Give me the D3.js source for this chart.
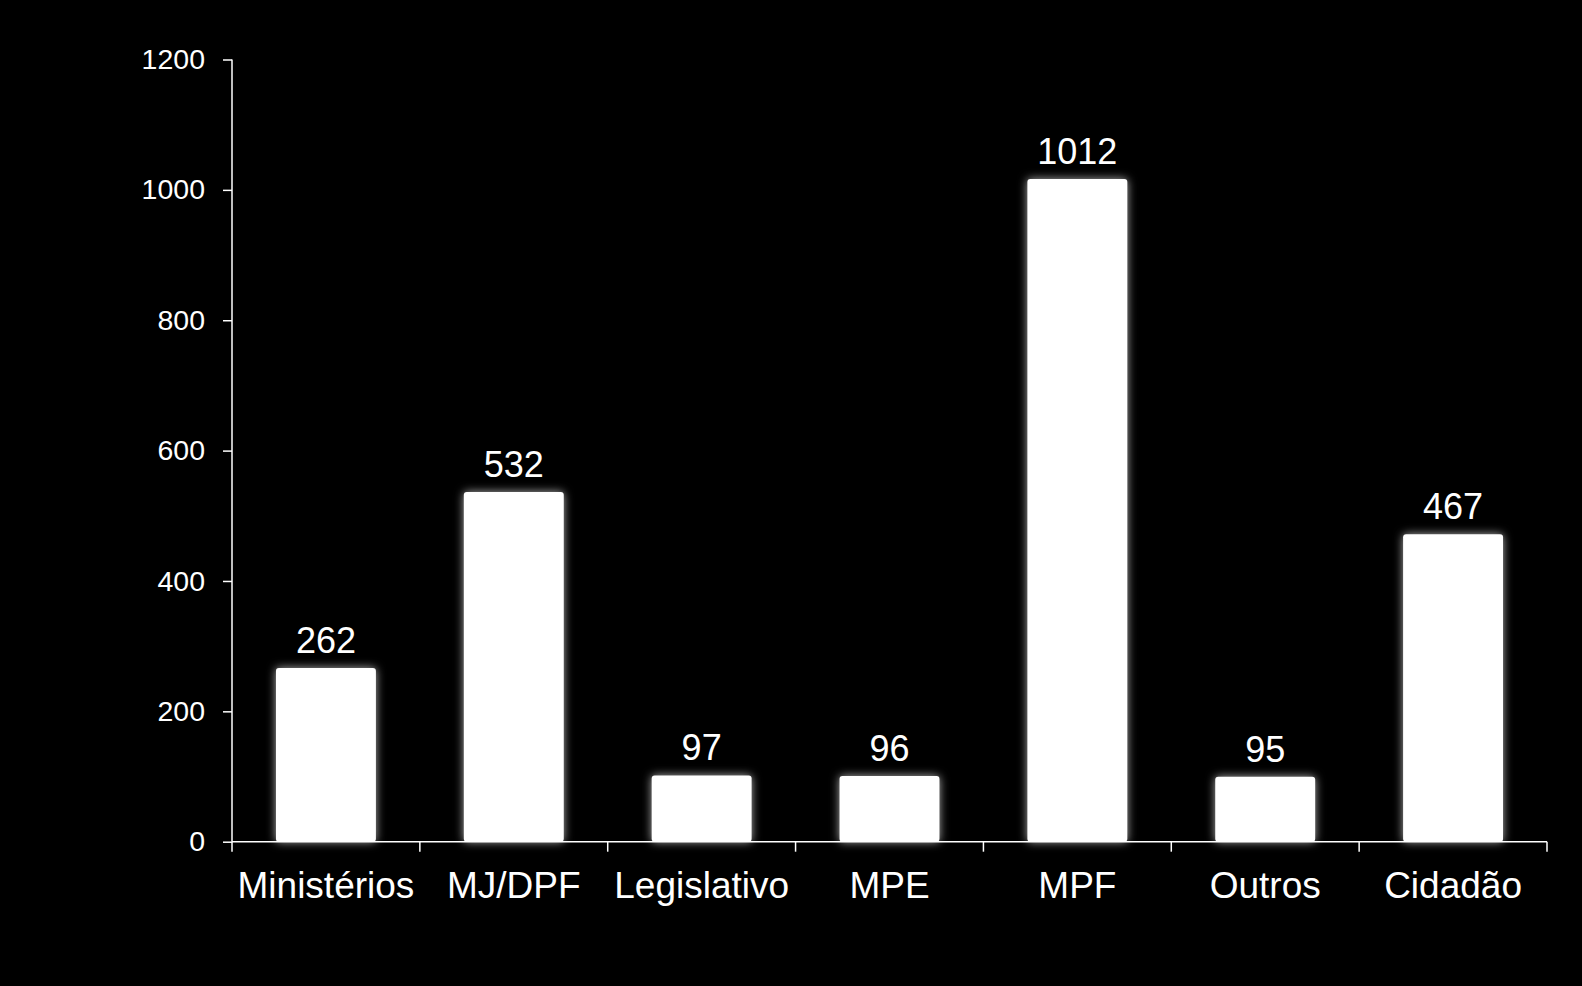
<!DOCTYPE html>
<html><head><meta charset="utf-8">
<script src="https://cdn.jsdelivr.net/npm/d3@7"></script>
<style>
html,body{margin:0;padding:0;background:#000;}
svg{display:block;}
text{font-family:"Liberation Sans",Arial,sans-serif;fill:#fff;}
</style></head>
<body>
<script>
const categories = ["Ministérios","MJ/DPF","Legislativo","MPE","MPF","Outros","Cidadão"];
const values = [262, 532, 97, 96, 1012, 95, 467];
const yTicks = [0, 200, 400, 600, 800, 1000, 1200];

const W = 1582, H = 986;
const plotLeft = 232, plotRight = 1547, plotTop = 59.5, plotBottom = 841.7;

const svg = d3.select("body").append("svg").attr("width", W).attr("height", H);
svg.append("rect").attr("width", W).attr("height", H).attr("fill", "#000");

const defs = svg.append("defs");
const f = defs.append("filter").attr("id","glow").attr("x","-30%").attr("y","-30%").attr("width","160%").attr("height","160%");
f.append("feGaussianBlur").attr("in","SourceAlpha").attr("stdDeviation",5).attr("result","b");
f.append("feFlood").attr("flood-color","#fff").attr("flood-opacity",0.7).attr("result","c");
f.append("feComposite").attr("in","c").attr("in2","b").attr("operator","in").attr("result","s");
const m = f.append("feMerge");
m.append("feMergeNode").attr("in","s");
m.append("feMergeNode").attr("in","SourceGraphic");

const x = d3.scaleBand().domain(categories).range([plotLeft, plotRight]).paddingInner(0.468).paddingOuter(0.234);
const xb = d3.scaleBand().domain(categories).range([plotLeft, plotRight]).padding(0);
const y = d3.scaleLinear().domain([0, 1200]).range([plotBottom, plotTop]);

const data = categories.map((c, i) => ({c, v: values[i]}));

const bevel = 3;
svg.append("g").selectAll("rect").data(data).join("rect")
  .attr("x", d => x(d.c))
  .attr("y", d => y(d.v) - bevel)
  .attr("width", x.bandwidth())
  .attr("height", d => y(0) - y(d.v) + bevel)
  .attr("rx", 3)
  .attr("fill", "#fff")
  .attr("filter", "url(#glow)");

svg.append("g").selectAll("text").data(data).join("text")
  .attr("x", d => x(d.c) + x.bandwidth()/2)
  .attr("y", d => y(d.v) - bevel - 15)
  .attr("text-anchor", "middle")
  .attr("font-size", 36)
  .text(d => d.v);

// y axis
const yAxis = svg.append("g").attr("transform", `translate(${plotLeft},0)`)
  .call(d3.axisLeft(y).tickValues(yTicks).tickSize(9).tickPadding(18).tickFormat(d3.format("d")));
yAxis.selectAll("path,line").attr("stroke","#fff").attr("stroke-width",1.5);
yAxis.select(".domain").attr("d", `M0,${plotTop}V${plotBottom}`);
yAxis.selectAll("text").attr("font-size", 28.5).attr("fill","#fff").attr("font-family","Liberation Sans, Arial, sans-serif");

// x axis
const xAxis = svg.append("g").attr("transform", `translate(0,${plotBottom})`)
  .call(d3.axisBottom(xb).tickSize(0).tickPadding(30));
xAxis.select(".domain").attr("d", `M${plotLeft},0H${plotRight}`).attr("stroke","#fff").attr("stroke-width",1.5);
xAxis.selectAll("text").attr("font-size", 37).attr("fill","#fff").attr("font-family","Liberation Sans, Arial, sans-serif");
// category boundary ticks
const bounds = categories.map(c => xb(c)).concat([plotRight]);
svg.append("g").selectAll("line").data(bounds).join("line")
  .attr("x1", d => d).attr("x2", d => d)
  .attr("y1", plotBottom).attr("y2", plotBottom + 10)
  .attr("stroke", "#fff").attr("stroke-width", 1.5);
</script>
</body></html>
